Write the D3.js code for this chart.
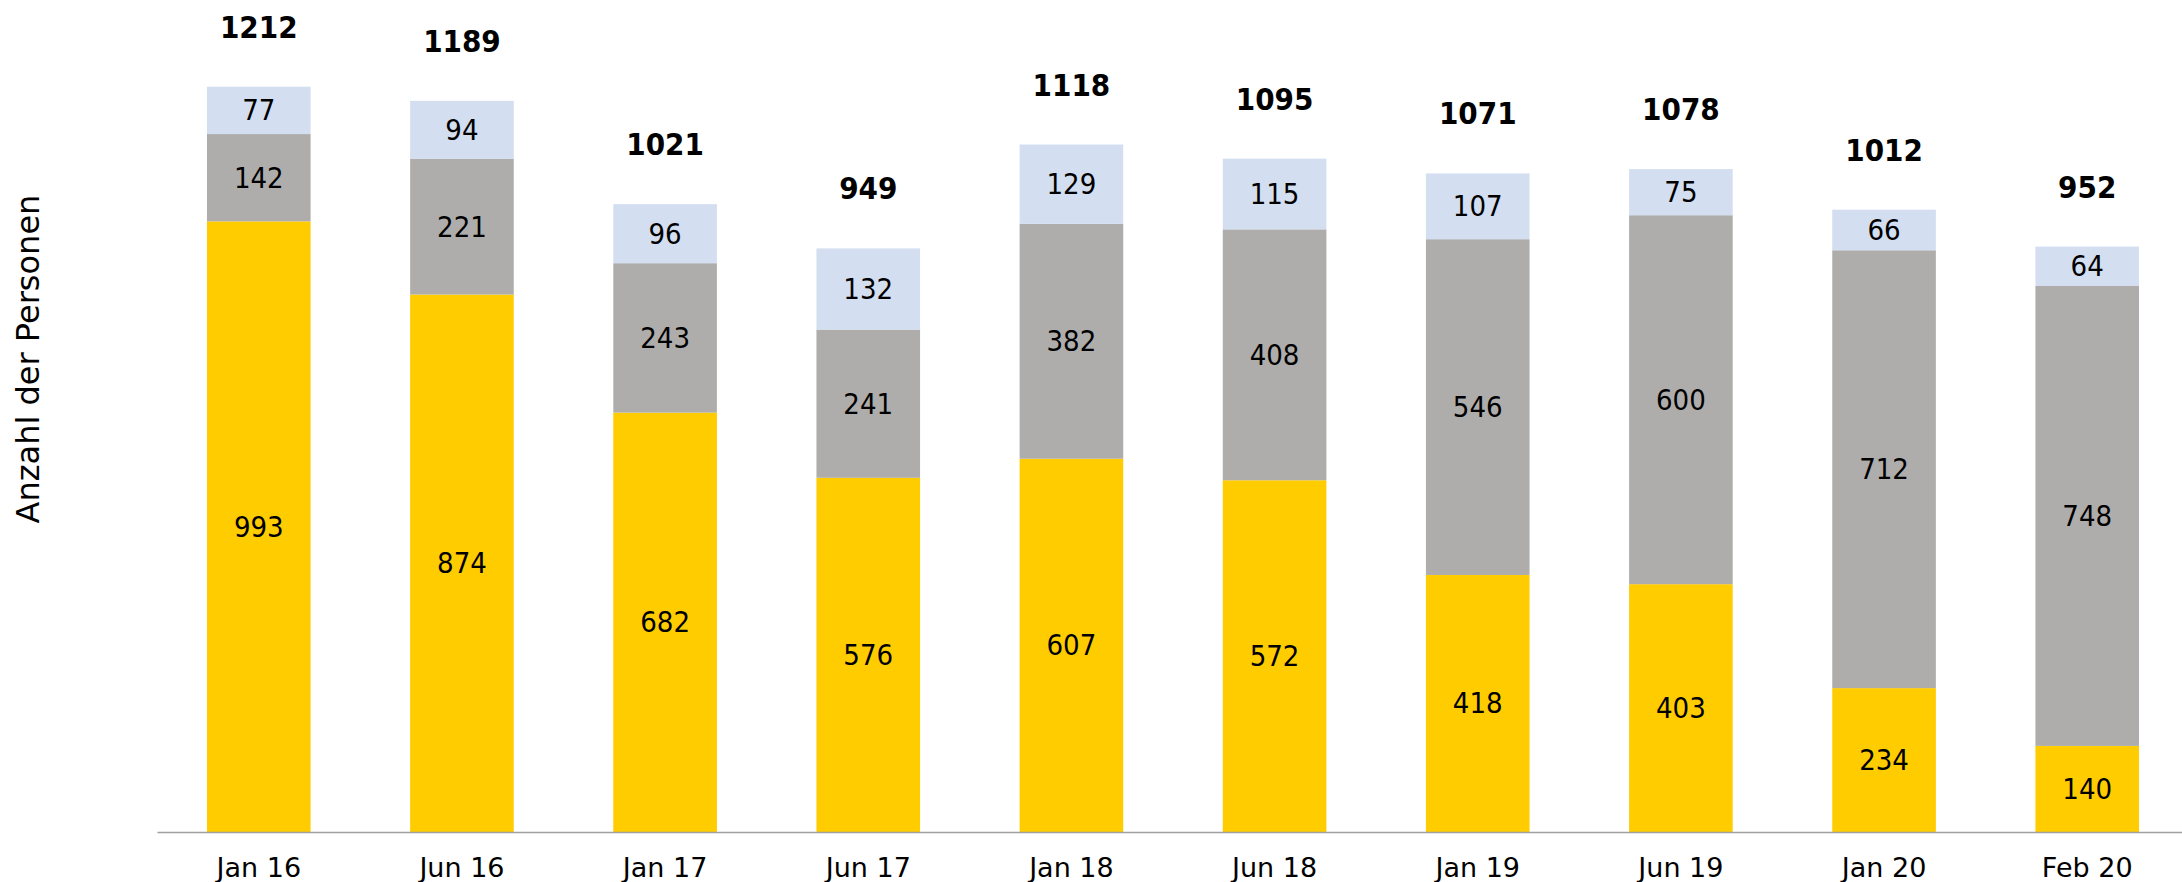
<!DOCTYPE html>
<html>
<head>
<meta charset="utf-8">
<script src="https://cdn.jsdelivr.net/npm/d3@7"></script>
<style>
  body { margin: 0; background: #fff; }
  svg text { font-family: "DejaVu Sans", Verdana, sans-serif; }
  .cond { font-stretch: condensed; }
</style>
</head>
<body>
<svg id="chart" width="2182" height="882"></svg>
<script>
const categories = ["Jan 16","Jun 16","Jan 17","Jun 17","Jan 18","Jun 18","Jan 19","Jun 19","Jan 20","Feb 20"];
const yellowVals = [993, 874, 682, 576, 607, 572, 418, 403, 234, 140];
const grayVals   = [142, 221, 243, 241, 382, 408, 546, 600, 712, 748];
const blueVals   = [77, 94, 96, 132, 129, 115, 107, 75, 66, 64];
const totals     = [1212, 1189, 1021, 949, 1118, 1095, 1071, 1078, 1012, 952];

const seriesKeys = ["yellow", "gray", "blue"];
const colors = { yellow: "#FFCC00", gray: "#AEADAC", blue: "#D3DEF1" };

const svg = d3.select("#chart"),
      width = +svg.attr("width"),
      height = +svg.attr("height");

const baseY = 832;

const table = categories.map((c, i) => ({
  cat: c, yellow: yellowVals[i], gray: grayVals[i], blue: blueVals[i], total: totals[i]
}));

const x = d3.scaleBand()
  .domain(categories)
  .range([157, 2189])
  .paddingInner(0.49)
  .paddingOuter(0.246);

const y = d3.scaleLinear().domain([0, 1353]).range([baseY, 0]);

const stack = d3.stack().keys(seriesKeys)(table);

const layer = svg.append("g").selectAll("g")
  .data(stack)
  .enter().append("g")
  .attr("fill", d => colors[d.key]);

layer.selectAll("rect")
  .data(d => d)
  .enter().append("rect")
  .attr("x", d => x(d.data.cat))
  .attr("width", x.bandwidth())
  .attr("y", d => y(d[1]))
  .attr("height", d => y(d[0]) - y(d[1]));

// segment labels
layer.selectAll("text")
  .data(d => d)
  .enter().append("text")
  .attr("class", "cond")
  .attr("x", d => x(d.data.cat) + x.bandwidth() / 2)
  .attr("y", d => (y(d[0]) + y(d[1])) / 2)
  .attr("text-anchor", "middle")
  .attr("dominant-baseline", "central")
  .attr("font-size", 29)
  .attr("fill", "#000")
  .text(d => d[1] - d[0]);

// totals
svg.append("g").selectAll("text")
  .data(table)
  .enter().append("text")
  .attr("class", "cond")
  .attr("x", d => x(d.cat) + x.bandwidth() / 2)
  .attr("y", d => y(d.total) - 60)
  .attr("text-anchor", "middle")
  .attr("dominant-baseline", "central")
  .attr("font-size", 31)
  .attr("font-weight", "bold")
  .attr("fill", "#000")
  .text(d => d.total);

// x axis
const xAxis = svg.append("g")
  .attr("transform", `translate(0,${baseY})`)
  .call(d3.axisBottom(x).tickSize(0).tickPadding(26));
xAxis.select(".domain").attr("stroke", "#A0A0A0").attr("stroke-width", 1.5);
xAxis.selectAll("text")
  .attr("font-size", 27)
  .attr("fill", "#000")
  .style("font-family", "'DejaVu Sans', Verdana, sans-serif");

// y axis title
svg.append("text")
  .attr("transform", `translate(28,359) rotate(-90)`)
  .attr("text-anchor", "middle")
  .attr("dominant-baseline", "central")
  .attr("font-size", 32)
  .attr("fill", "#000")
  .text("Anzahl der Personen");
</script>
</body>
</html>
